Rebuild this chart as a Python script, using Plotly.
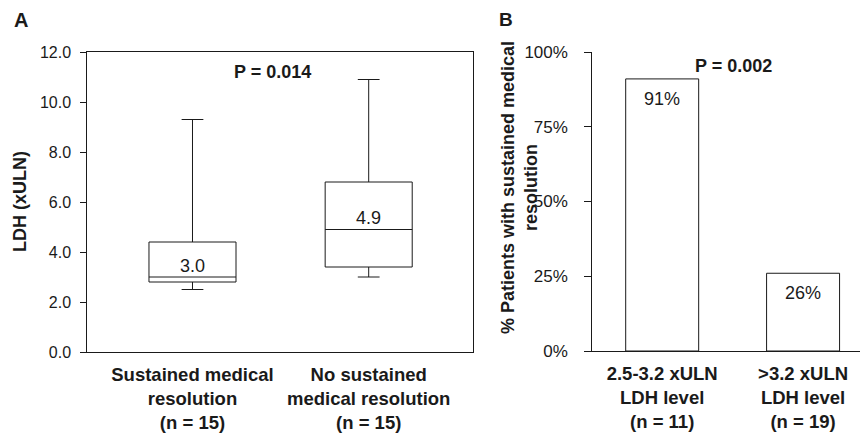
import plotly.graph_objects as go

W, H = 860, 436

# ---- Data ----
box_categories = ["Sustained medical<br>resolution<br>(n = 15)",
                  "No sustained<br>medical resolution<br>(n = 15)"]
box_lower = [2.5, 3.0]
box_q1 = [2.8, 3.4]
box_median = [3.0, 4.9]
box_q3 = [4.4, 6.8]
box_upper = [9.3, 10.9]
box_median_labels = ["3.0", "4.9"]
a_ticks = [0, 2, 4, 6, 8, 10, 12]
a_tick_labels = ["0.0", "2.0", "4.0", "6.0", "8.0", "10.0", "12.0"]

bar_categories = ["2.5-3.2 xULN<br>LDH level<br>(n = 11)",
                  ">3.2 xULN<br>LDH level<br>(n = 19)"]
bar_values = [91, 26]
bar_labels = ["91%", "26%"]
b_ticks = [0, 25, 50, 75, 100]
b_tick_labels = ["0%", "25%", "50%", "75%", "100%"]

FONT = "Liberation Sans, Arial, sans-serif"
INK = "#1a1a1a"


def px(x):
    return x / W


def py(y):
    return 1 - y / H


fig = go.Figure()

fig.add_trace(go.Box(
    x=[0, 1], q1=box_q1, median=box_median, q3=box_q3,
    lowerfence=box_lower, upperfence=box_upper,
    width=0.494, whiskerwidth=0.25, boxpoints=False,
    fillcolor="white", line=dict(color=INK, width=1),
    xaxis="x", yaxis="y", showlegend=False, hoverinfo="skip"))

fig.add_trace(go.Bar(
    x=[0, 1], y=bar_values, width=0.518,
    marker=dict(color="white", line=dict(color=INK, width=1)),
    xaxis="x2", yaxis="y2", showlegend=False, hoverinfo="skip"))

catfont = dict(family=FONT, size=18.5, color=INK, weight="bold")

fig.update_layout(
    width=W, height=H, margin=dict(l=0, r=0, t=0, b=0, autoexpand=False),
    paper_bgcolor="white", plot_bgcolor="white",
    font=dict(family=FONT, color=INK),
    xaxis=dict(domain=[px(87.3), px(473)], range=[-0.597, 1.592],
               automargin=False,
               showline=True, mirror=True, linecolor=INK, linewidth=1,
               showgrid=False, zeroline=False, ticks="",
               tickvals=[0, 1], ticktext=box_categories, tickfont=catfont,
               ticklabelstandoff=6),
    yaxis=dict(domain=[py(352), py(52)], range=[0, 12], automargin=False,
               showline=True, mirror=True, linecolor=INK, linewidth=1,
               showgrid=False, zeroline=False, ticks="outside", ticklen=6,
               tickcolor=INK, tickvals=a_ticks, ticktext=a_tick_labels,
               tickfont=dict(family=FONT, size=16, color=INK),
               ticklabelstandoff=6),
    xaxis2=dict(domain=[px(592.3), 1.0], range=[-0.496, 1.404], anchor="y2",
                automargin=False,
                showline=True, linecolor=INK, linewidth=1,
                showgrid=False, zeroline=False, ticks="",
                tickvals=[0, 1], ticktext=bar_categories, tickfont=catfont,
                ticklabelstandoff=6),
    yaxis2=dict(domain=[py(351), py(52)], range=[0, 100], anchor="x2",
                automargin=False,
                showline=True, linecolor=INK, linewidth=1,
                showgrid=False, zeroline=False, ticks="outside", ticklen=7,
                tickcolor=INK, tickvals=b_ticks, ticktext=b_tick_labels,
                tickfont=dict(family=FONT, size=17, color=INK),
                ticklabelstandoff=13),
)

ann = []
# Median labels
for i, (m, t) in enumerate(zip(box_median, box_median_labels)):
    ann.append(dict(x=i, y=m, xref="x", yref="y", text=t, showarrow=False,
                    xanchor="center", yanchor="middle", yshift=11,
                    font=dict(family=FONT, size=18, color=INK)))
# Bar labels
for i, (v, t) in enumerate(zip(bar_values, bar_labels)):
    ann.append(dict(x=i, y=v, xref="x2", yref="y2", text=t, showarrow=False,
                    xanchor="center", yanchor="middle", yshift=-20,
                    font=dict(family=FONT, size=18, color=INK)))


def note(x, y, text, size=18, angle=0):
    ann.append(dict(x=px(x), y=py(y), xref="paper", yref="paper",
                    text=text, showarrow=False, textangle=angle,
                    xanchor="center", yanchor="middle",
                    font=dict(family=FONT, size=size, color=INK)))


# P values
note(272.5, 71.7, "<b>P = 0.014</b>")
note(733, 65.7, "<b>P = 0.002</b>")
# Axis titles
note(20, 202, "<b>LDH (xULN)</b>", angle=-90)
note(519, 188, "<b>% Patients with sustained medical<br>resolution</b>", angle=-90)
# Panel letters
note(21, 20, "<b>A</b>", size=20)
note(505.5, 19.7, "<b>B</b>", size=19)

fig.update_layout(annotations=ann)
fig.write_html("out.html")
